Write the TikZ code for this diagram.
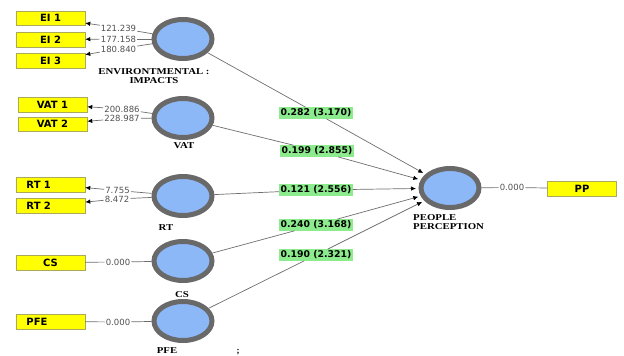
\documentclass[tikz,border=0pt]{standalone}
\usepackage{fontspec}
\setmainfont{Liberation Serif}
\newfontfamily\dvs{DejaVu Sans}
\usetikzlibrary{shapes.geometric,arrows.meta}
\definecolor{lvfill}{RGB}{140,184,248}
\definecolor{lvbd}{RGB}{105,105,105}
\definecolor{yfill}{RGB}{255,255,0}
\definecolor{ybd}{RGB}{170,170,90}
\definecolor{gfill}{RGB}{140,235,140}
\definecolor{lnc}{RGB}{110,110,110}
\definecolor{numc}{RGB}{80,80,80}
\newcommand{\sx}[1]{\scalebox{1.2}[1]{#1}}
\begin{document}
\begin{tikzpicture}[x=1pt,y=-1pt,
  lv/.style={ellipse, draw=lvbd, line width=5pt, fill=lvfill, minimum width=58pt, minimum height=39pt, inner sep=0pt},
  ind/.style={rectangle, draw=ybd, fill=yfill, line width=0.5pt, minimum width=69pt, minimum height=14.5pt, inner sep=0pt, font=\dvs\bfseries\fontsize{10}{12}\selectfont},
  leftt/.style={text width=48pt, align=left},
  num/.style={inner sep=1pt, text=numc, font=\dvs\fontsize{8.5}{10}\selectfont},
  coef/.style={fill=gfill, inner xsep=1.5pt, inner ysep=1.5pt, font=\dvs\bfseries\fontsize{9.3}{11}\selectfont},
  lvlab/.style={inner sep=0pt, font=\bfseries\fontsize{9}{9}\selectfont},
  ln/.style={draw=lnc, line width=0.7pt},
  arr/.style={ln, -{Latex[length=5pt,width=4.5pt,color=black]}},
  parr/.style={arr, shorten >=2.5pt}
]
\useasboundingbox (0,0) rectangle (624,356);

% latent variables
\node[lv] (EI) at (183,39) {};
\node[lv] (VAT) at (183,118) {};
\node[lv] (RT) at (183,196) {};
\node[lv] (CS) at (183,261) {};
\node[lv] (PFE) at (183,321) {};
\node[lv] (PP) at (450,188) {};

% latent labels
\node[lvlab, align=center] (lEI) at (154,76) {\sx{ENVIRONTMENTAL :}\\[0pt]\sx{IMPACTS}};
\node[lvlab] (lVAT) at (184,146) {\sx{VAT}};
\node[lvlab] (lRT) at (166,228) {\sx{RT}};
\node[lvlab] (lCS) at (182,295) {\sx{CS}};
\node[lvlab] (lPFE) at (167,351) {\sx{PFE}};
\node[lvlab] (semi) at (238,352) {;};
\node[lvlab, align=left, anchor=west] (lPP) at (413,222) {\sx{PEOPLE}\\[0pt]\sx{PERCEPTION}};

% indicators
\node[ind] (EI1) at (50.5,18) {EI 1};
\node[ind] (EI2) at (50.5,39.5) {EI 2};
\node[ind] (EI3) at (50.5,60.5) {EI 3};
\node[ind] (VAT1) at (52.5,104.5) {VAT 1};
\node[ind] (VAT2) at (52.5,124) {VAT 2};
\node[ind, leftt] (RT1) at (50.5,184.5) {RT 1};
\node[ind, leftt] (RT2) at (50.5,205.5) {RT 2};
\node[ind] (CSb) at (50.5,262.5) {CS};
\node[ind, leftt] (PFEb) at (50.5,321.5) {PFE};
\node[ind] (PPb) at (582,188.5) {PP};

% loadings
\node[num] (n1) at (118.5,28) {121.239};
\node[num] (n2) at (118.5,39) {177.158};
\node[num] (n3) at (118.5,49) {180.840};
\node[num] (n4) at (122,109) {200.886};
\node[num] (n5) at (122,118.5) {228.987};
\node[num] (n6) at (117.5,190.5) {7.755};
\node[num] (n7) at (117,199) {8.472};
\node[num] (n8) at (118,262) {0.000};
\node[num] (n9) at (118,322) {0.000};
\node[num] (n10) at (512,187.5) {0.000};

\draw[ln] (EI) -- (n1); \draw[arr] (n1) -- (EI1);
\draw[ln] (EI) -- (n2); \draw[arr] (n2) -- (EI2);
\draw[ln] (EI) -- (n3); \draw[arr] (n3) -- (EI3);
\draw[ln] (VAT) -- (n4); \draw[arr] (n4) -- (VAT1);
\draw[ln] (VAT) -- (n5); \draw[arr] (n5) -- (VAT2);
\draw[ln] (RT) -- (n6); \draw[arr] (n6) -- (RT1);
\draw[ln] (RT) -- (n7); \draw[arr] (n7) -- (RT2);
\draw[ln] (CS) -- (n8); \draw[ln] (n8) -- (CSb);
\draw[ln] (PFE) -- (n9); \draw[ln] (n9) -- (PFEb);
\draw[ln] (PP) -- (n10); \draw[ln] (n10) -- (PPb);

% path coefficients
\node[coef] (g1) at (316,113) {0.282 (3.170)};
\node[coef] (g2) at (317,151) {0.199 (2.855)};
\node[coef] (g3) at (316,190) {0.121 (2.556)};
\node[coef] (g4) at (316,225) {0.240 (3.168)};
\node[coef] (g5) at (316,255) {0.190 (2.321)};

\draw[ln] (EI) -- (g1); \draw[parr] (g1) -- (PP);
\draw[ln] (VAT) -- (g2); \draw[parr] (g2) -- (PP);
\draw[ln] (RT) -- (g3); \draw[parr] (g3) -- (PP);
\draw[ln] (CS) -- (g4); \draw[parr] (g4) -- (PP);
\draw[ln] (PFE) -- (g5); \draw[parr] (g5) -- (PP);
\end{tikzpicture}
\end{document}
